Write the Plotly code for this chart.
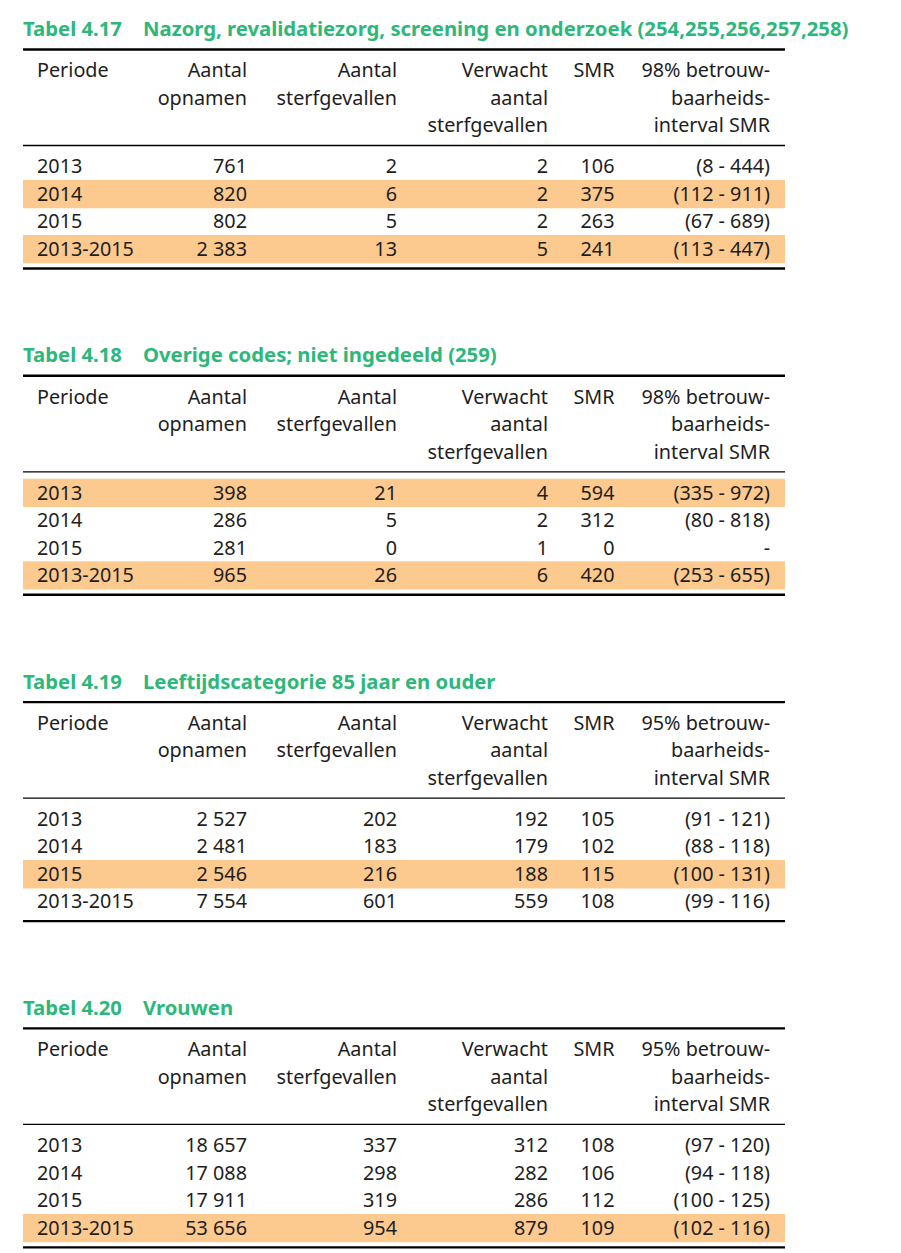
import plotly.graph_objects as go

# --- data -----------------------------------------------------------------
periods = ["2013", "2014", "2015", "2013-2015"]

t417_label = "Tabel 4.17"
t417_name = "Nazorg, revalidatiezorg, screening en onderzoek (254,255,256,257,258)"
t417_level = "98%"
t417_opnamen = [761, 820, 802, 2383]
t417_sterf = [2, 6, 5, 13]
t417_verwacht = [2, 2, 2, 5]
t417_smr = [106, 375, 263, 241]
t417_ci = ["(8 - 444)", "(112 - 911)", "(67 - 689)", "(113 - 447)"]
t417_shaded = [1, 3]

t418_label = "Tabel 4.18"
t418_name = "Overige codes; niet ingedeeld (259)"
t418_level = "98%"
t418_opnamen = [398, 286, 281, 965]
t418_sterf = [21, 5, 0, 26]
t418_verwacht = [4, 2, 1, 6]
t418_smr = [594, 312, 0, 420]
t418_ci = ["(335 - 972)", "(80 - 818)", "-", "(253 - 655)"]
t418_shaded = [0, 3]

t419_label = "Tabel 4.19"
t419_name = "Leeftijdscategorie 85 jaar en ouder"
t419_level = "95%"
t419_opnamen = [2527, 2481, 2546, 7554]
t419_sterf = [202, 183, 216, 601]
t419_verwacht = [192, 179, 188, 559]
t419_smr = [105, 102, 115, 108]
t419_ci = ["(91 - 121)", "(88 - 118)", "(100 - 131)", "(99 - 116)"]
t419_shaded = [2]

t420_label = "Tabel 4.20"
t420_name = "Vrouwen"
t420_level = "95%"
t420_opnamen = [18657, 17088, 17911, 53656]
t420_sterf = [337, 298, 319, 954]
t420_verwacht = [312, 282, 286, 879]
t420_smr = [108, 106, 112, 109]
t420_ci = ["(97 - 120)", "(94 - 118)", "(100 - 125)", "(102 - 116)"]
t420_shaded = [3]

header_lines = [
    ["Periode"],
    ["Aantal", "opnamen"],
    ["Aantal", "sterfgevallen"],
    ["Verwacht", "aantal", "sterfgevallen"],
    ["SMR"],
    ["{level} betrouw-", "baarheids-", "interval SMR"],
]

tables = [
    dict(label=t417_label, name=t417_name, level=t417_level, cols=[t417_opnamen, t417_sterf, t417_verwacht, t417_smr, t417_ci], shaded=t417_shaded),
    dict(label=t418_label, name=t418_name, level=t418_level, cols=[t418_opnamen, t418_sterf, t418_verwacht, t418_smr, t418_ci], shaded=t418_shaded),
    dict(label=t419_label, name=t419_name, level=t419_level, cols=[t419_opnamen, t419_sterf, t419_verwacht, t419_smr, t419_ci], shaded=t419_shaded),
    dict(label=t420_label, name=t420_name, level=t420_level, cols=[t420_opnamen, t420_sterf, t420_verwacht, t420_smr, t420_ci], shaded=t420_shaded),
]

# --- layout constants -----------------------------------------------------
W, H = 901, 1253
PAGE_PAD = 8  # default body margin of the html page
FONT = "Noto Sans"
FS = 19.8
TITLE_FS = 20.3
GREEN = "#2db87a"
ORANGE = "#fcc98f"
INK = "#1e1e1e"

LEFT, RIGHT = 23, 785
PERIODE_X = 37
SUB_X = 143
COL_RIGHT = [247, 397, 548, 614.5, 770]

TOP0, TABLE_STEP = 49.5, 326.3
ROW_STEP = 27.5


def fmt(v):
    if isinstance(v, str):
        return v
    return f"{v:,}".replace(",", "\u00a0")


def text_trace(xs, baselines, texts, pos, size=FS, color=INK, bold=False):
    # plotly puts the baseline 0.25*size below the point for "middle"
    return go.Scatter(
        x=xs,
        y=[b - 0.25 * size for b in baselines],
        text=texts,
        mode="text",
        textposition=pos,
        textfont=dict(family=FONT, size=size, color=color, weight="bold" if bold else "normal"),
        hoverinfo="skip",
        showlegend=False,
    )


fig = go.Figure()
shapes = []

for i, tb in enumerate(tables):
    top = TOP0 + i * TABLE_STEP
    title_base = top - 13.5
    head_base = [top + 27.8 + k * ROW_STEP for k in range(3)]
    row_base = [top + 123.8 + k * ROW_STEP for k in range(len(periods))]

    # shaded rows
    for r in tb["shaded"]:
        shapes.append(dict(type="rect", xref="x", yref="y", x0=LEFT, x1=RIGHT,
                           y0=row_base[r] - 20.8, y1=row_base[r] + 7.5,
                           fillcolor=ORANGE, line=dict(width=0), layer="below"))

    # rules
    for y, w in [(top, 2.4), (top + 96, 1.3), (top + 219, 2.4)]:
        shapes.append(dict(type="line", xref="x", yref="y", x0=LEFT, x1=RIGHT,
                           y0=y, y1=y, line=dict(color="#000000", width=w)))

    # title
    fig.add_trace(text_trace([LEFT], [title_base], [tb["label"]], "middle right",
                             size=TITLE_FS, color=GREEN, bold=True))
    fig.add_trace(text_trace([SUB_X], [title_base], [tb["name"]], "middle right",
                             size=TITLE_FS, color=GREEN, bold=True))

    # header
    for c, lines in enumerate(header_lines):
        lines = [ln.format(level=tb["level"]) for ln in lines]
        if c == 0:
            fig.add_trace(text_trace([PERIODE_X] * len(lines), head_base[:len(lines)], lines, "middle right"))
        else:
            fig.add_trace(text_trace([COL_RIGHT[c - 1]] * len(lines), head_base[:len(lines)], lines, "middle left"))

    # body
    fig.add_trace(text_trace([PERIODE_X] * len(periods), row_base, periods, "middle right"))
    for c, col in enumerate(tb["cols"]):
        fig.add_trace(text_trace([COL_RIGHT[c]] * len(col), row_base, [fmt(v) for v in col], "middle left"))

fig.update_layout(
    width=W,
    height=H,
    margin=dict(l=0, r=0, t=0, b=0),
    paper_bgcolor="white",
    plot_bgcolor="white",
    showlegend=False,
    shapes=shapes,
    # axes shifted so that coordinates match window pixels despite the page margin
    xaxis=dict(range=[PAGE_PAD, W + PAGE_PAD], visible=False, fixedrange=True),
    yaxis=dict(range=[H + PAGE_PAD, PAGE_PAD], visible=False, fixedrange=True),
)

fig.write_html("out.html")
